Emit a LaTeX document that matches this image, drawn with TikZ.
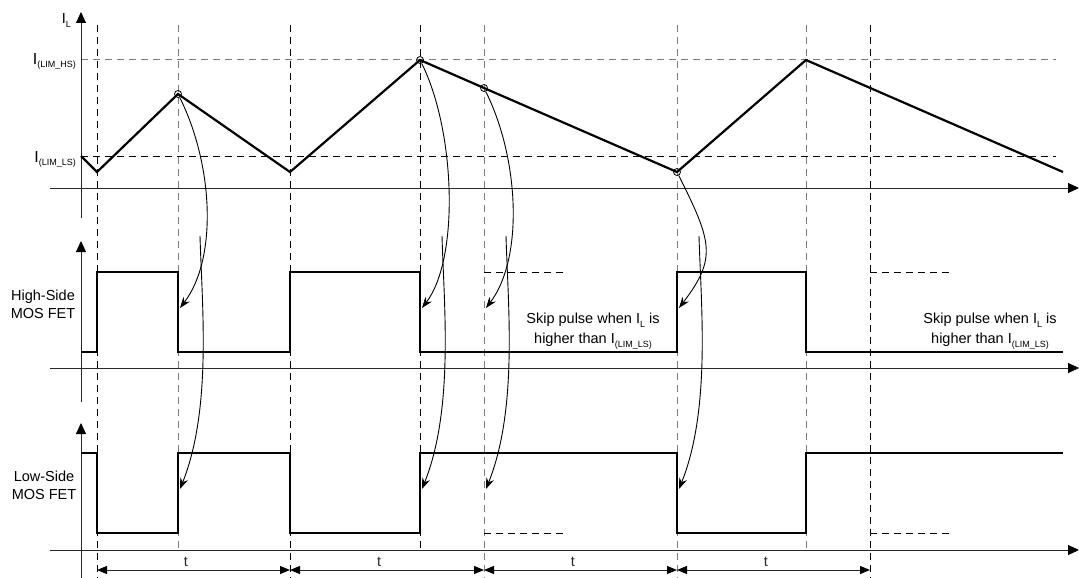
\documentclass[tikz,border=0pt]{standalone}
\usepackage{fontspec}
\setmainfont{Liberation Sans}
\usetikzlibrary{arrows.meta,positioning}
\definecolor{AxisGray}{RGB}{40,40,40}
\definecolor{DashGray}{RGB}{125,125,125}
\newcommand\lowsub[1]{\raisebox{-0.45ex}{\fontsize{9}{9}\selectfont #1}}

\tikzset{
  axis/.style={AxisGray,line width=1pt},
  axisarrow/.style={axis,-{Triangle[length=11pt,width=10pt,black]}},
  wave/.style={line width=2.2pt,line join=miter},
  guide/.style={dash pattern=on 7pt off 5pt,line width=1pt},
  cause/.style={line width=0.9pt,-{Stealth[length=11pt,width=8pt]}},
  period/.style={axis,{Triangle[length=10pt,width=8pt,black]}-{Triangle[length=10pt,width=8pt,black]}},
  lbl/.style={font=\fontsize{14.5}{18}\selectfont,inner sep=0pt},
  limlbl/.style={font=\fontsize{16}{18}\selectfont,inner sep=0pt,anchor=base east},
  peak/.style={circle,draw,line width=0.8pt,inner sep=0pt,minimum size=7pt},
}

\begin{document}
\begin{tikzpicture}[x=1pt,y=-1pt,>=Latex]
  \useasboundingbox (0,0) rectangle (1079,578);

  % dashed time marks
  \foreach \xg/\c in {97/black,290/black,484/DashGray,677/DashGray,870/black}
    \draw[guide,\c] (\xg,25) -- (\xg,578);
  \foreach \xg/\c in {178/DashGray,420/black,806/DashGray}
    \draw[guide,\c] (\xg,25) -- (\xg,552);

  % current limits
  \draw[guide,DashGray] (81,60) -- (1056,60);
  \draw[guide] (81,156) -- (1056,156);

  % axes
  \draw[axisarrow] (50,188) -- (1079,188);
  \draw[axisarrow] (50,368) -- (1079,368);
  \draw[axisarrow] (50,550) -- (1079,550);
  \draw[axisarrow] (81,218) -- (81,12);
  \draw[axisarrow] (81,402) -- (81,241);
  \draw[axisarrow] (81,578) -- (81,423);

  % inductor current
  \draw[wave] (81,156) -- (97,172) -- (178,94) -- (290,172) -- (420,60)
    -- (484,88) -- (677,172) -- (806,60) -- (1063,172);

  % high side and low side gates
  \draw[wave] (81,352) -| (97,272) -| (178,352) -| (290,272) -| (420,352)
    -| (677,272) -| (806,352) -- (1063,352);
  \draw[wave] (81,453) -| (97,533) -| (178,453) -| (290,533) -| (420,453)
    -| (677,533) -| (806,453) -- (1063,453);

  % skipped pulses
  \draw[guide] (484,272) -- (565,272);
  \draw[guide] (870,272) -- (950,272);
  \draw[guide] (484,533) -- (565,533);
  \draw[guide] (870,533) -- (950,533);

  % events and their effect on the gates
  \foreach \ev/\xe/\ye in {1/178/94,2/420/60,3/484/88,4/677/172} {
    \node[peak] (pk\ev) at (\xe,\ye) {};
    \coordinate (hs\ev) at (\xe+2,308);
    \coordinate (src\ev) at (\xe+22,236);
    \coordinate (ls\ev) at (\xe+2,489);
    \draw[cause] (pk\ev) .. controls +(35,70) and +(38,-50) .. (hs\ev);
    \draw[cause] (src\ev) .. controls +(2,70) and +(32,-80) .. (ls\ev);
  }

  % periods
  \foreach \xg in {97,290,484,677,870}
    \coordinate (t\xg) at (\xg,570);
  \foreach \xa/\xb in {97/290,290/484,484/677,677/870}
    \draw[period] (t\xa) -- node[lbl,pos=0.46,above=3pt] {t} (t\xb);

  % labels
  \node[lbl,anchor=base east] (il) at (71,24) {I\lowsub{L}};
  \node[limlbl] (ihs) at (76,64) {I\lowsub{(LIM\_HS)}};
  \node[limlbl] (ils) at (76,162) {I\lowsub{(LIM\_LS)}};
  \node[lbl,align=center] (hsname) at (43,304) {High-Side\\MOS FET};
  \node[lbl,align=center] (lsname) at (44,485) {Low-Side\\MOS FET};
  \node[lbl,font=\fontsize{14.5}{20}\selectfont,align=center] (skip1) at (593,331)
    {Skip pulse when I\lowsub{L} is\\higher than I\lowsub{(LIM\_LS)}};
  \node[lbl,font=\fontsize{14.5}{20}\selectfont,align=center] (skip2) at (990,331)
    {Skip pulse when I\lowsub{L} is\\higher than I\lowsub{(LIM\_LS)}};
\end{tikzpicture}
\end{document}
